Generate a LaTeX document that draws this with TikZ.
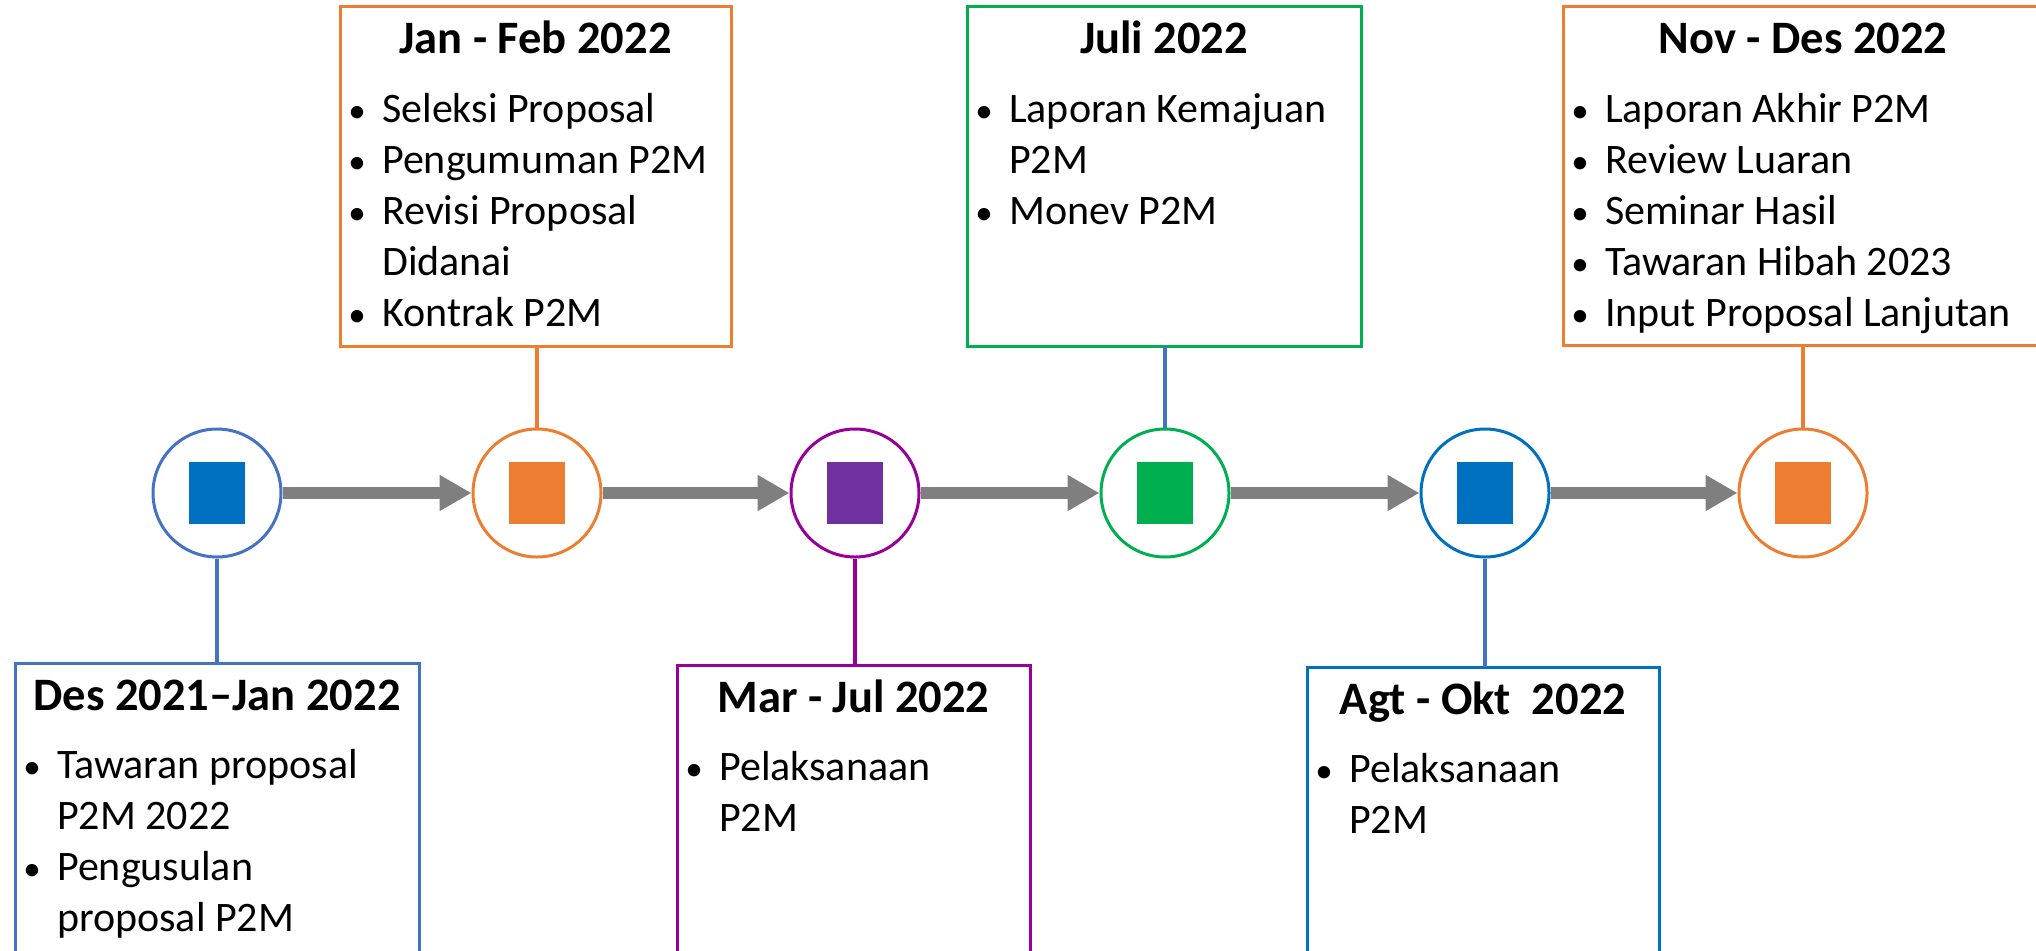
\documentclass[tikz,border=0pt]{standalone}
\usepackage{fontspec}
\setmainfont{Carlito}
\usetikzlibrary{arrows.meta,calc}
\definecolor{cBlueL}{HTML}{4472C4}
\definecolor{cBlue}{HTML}{0070C0}
\definecolor{cOrange}{HTML}{ED7D31}
\definecolor{cPurpleL}{HTML}{990099}
\definecolor{cPurple}{HTML}{7030A0}
\definecolor{cGreen}{HTML}{00B050}
\definecolor{cGray}{HTML}{7F7F7F}
\begin{document}
\begin{tikzpicture}[x=1pt,y=-1pt,
  circ/.style={circle, draw, line width=3pt, minimum size=128pt, inner sep=0pt, fill=white},
  sq/.style={rectangle, minimum width=56pt, minimum height=62pt, inner sep=0pt, draw=none},
  arr/.style={draw=cGray, line width=12pt, -{Triangle[length=32pt,width=34pt]}},
  conn/.style={line width=4pt},
  tbox/.style={rectangle, draw, line width=3pt, inner sep=0pt, outer sep=0pt, anchor=north west, fill=white},
  ttl/.style={anchor=base, inner sep=0pt, font=\bfseries\fontsize{46.5}{56}\selectfont},
  itm/.style={anchor=base west, inner sep=0pt, font=\fontsize{42}{51}\selectfont},
  bul/.style={anchor=base, inner sep=0pt, font=\fontsize{35}{51}\selectfont}
]
\useasboundingbox (0,0) rectangle (2036,950);
\fill[white] (0,0) rectangle (2036,950);

% boxes
\node[tbox, draw=cBlueL, minimum width=404pt, minimum height=310pt] (b1) at (15,663) {};
\node[tbox, draw=cOrange, minimum width=391pt, minimum height=339pt] (b2) at (340,7) {};
\node[tbox, draw=cPurpleL, minimum width=353pt, minimum height=310pt] (b3) at (677,665) {};
\node[tbox, draw=cGreen, minimum width=394pt, minimum height=339pt] (b4) at (967,7) {};
\node[tbox, draw=cBlue, minimum width=352pt, minimum height=310pt] (b5) at (1307,667) {};
\node[tbox, draw=cOrange, minimum width=480pt, minimum height=338pt] (b6) at (1563,7) {};

% circles
\node[circ, draw=cBlueL] (c1) at (217,493) {};
\node[circ, draw=cOrange] (c2) at (537,493) {};
\node[circ, draw=cPurpleL] (c3) at (855,493) {};
\node[circ, draw=cGreen] (c4) at (1165,493) {};
\node[circ, draw=cBlue] (c5) at (1485,493) {};
\node[circ, draw=cOrange] (c6) at (1803,493) {};

\node[sq, fill=cBlue] (s1) at (c1) {};
\node[sq, fill=cOrange] (s2) at (c2) {};
\node[sq, fill=cPurple] (s3) at (c3) {};
\node[sq, fill=cGreen] (s4) at (c4) {};
\node[sq, fill=cBlue] (s5) at (c5) {};
\node[sq, fill=cOrange] (s6) at (c6) {};

% arrows
\draw[arr] (c1) -- (c2);
\draw[arr] (c2) -- (c3);
\draw[arr] (c3) -- (c4);
\draw[arr] (c4) -- (c5);
\draw[arr] (c5) -- (c6);

% connectors
\draw[conn, draw=cBlueL] (c1.south) -- (c1.south |- b1.north);
\draw[conn, draw=cOrange] (c2.north) -- (c2.north |- b2.south);
\draw[conn, draw=cPurpleL] (c3.south) -- (c3.south |- b3.north);
\draw[conn, draw=cBlueL] (c4.north) -- (c4.north |- b4.south);
\draw[conn, draw=cBlueL] (c5.south) -- (c5.south |- b5.north);
\draw[conn, draw=cOrange] (c6.north) -- (c6.north |- b6.south);

% box 1
\node[ttl] (t1) at ($(b1.north)+(0,47)$) {Des 2021–Jan 2022};
\node[bul] (p1a) at ($(b1.north west)+(17,115)$) {•};
\node[itm] (i1a) at ($(b1.north west)+(42,115)$) {Tawaran proposal};
\node[itm] (i1b) at ($(b1.north west)+(42,166)$) {P2M 2022};
\node[bul] (p1c) at ($(b1.north west)+(17,217)$) {•};
\node[itm] (i1c) at ($(b1.north west)+(42,217)$) {Pengusulan};
\node[itm] (i1d) at ($(b1.north west)+(42,268)$) {proposal P2M};

% box 2
\node[ttl] (t2) at ($(b2.north)+(0,47)$) {Jan - Feb 2022};
\node[bul] (p2a) at ($(b2.north west)+(17,115)$) {•};
\node[itm] (i2a) at ($(b2.north west)+(42,115)$) {Seleksi Proposal};
\node[bul] (p2b) at ($(b2.north west)+(17,166)$) {•};
\node[itm] (i2b) at ($(b2.north west)+(42,166)$) {Pengumuman P2M};
\node[bul] (p2c) at ($(b2.north west)+(17,217)$) {•};
\node[itm] (i2c) at ($(b2.north west)+(42,217)$) {Revisi Proposal};
\node[itm] (i2d) at ($(b2.north west)+(42,268)$) {Didanai};
\node[bul] (p2e) at ($(b2.north west)+(17,319)$) {•};
\node[itm] (i2e) at ($(b2.north west)+(42,319)$) {Kontrak P2M};

% box 3
\node[ttl] (t3) at ($(b3.north)+(0,47)$) {Mar - Jul 2022};
\node[bul] (p3a) at ($(b3.north west)+(17,115)$) {•};
\node[itm] (i3a) at ($(b3.north west)+(42,115)$) {Pelaksanaan};
\node[itm] (i3b) at ($(b3.north west)+(42,166)$) {P2M};

% box 4
\node[ttl] (t4) at ($(b4.north)+(0,47)$) {Juli 2022};
\node[bul] (p4a) at ($(b4.north west)+(17,115)$) {•};
\node[itm] (i4a) at ($(b4.north west)+(42,115)$) {Laporan Kemajuan};
\node[itm] (i4b) at ($(b4.north west)+(42,166)$) {P2M};
\node[bul] (p4c) at ($(b4.north west)+(17,217)$) {•};
\node[itm] (i4c) at ($(b4.north west)+(42,217)$) {Monev P2M};

% box 5
\node[ttl] (t5) at ($(b5.north)+(0,47)$) {Agt - Okt\ \ 2022};
\node[bul] (p5a) at ($(b5.north west)+(17,115)$) {•};
\node[itm] (i5a) at ($(b5.north west)+(42,115)$) {Pelaksanaan};
\node[itm] (i5b) at ($(b5.north west)+(42,166)$) {P2M};

% box 6
\node[ttl] (t6) at ($(b6.north)+(0,47)$) {Nov - Des 2022};
\node[bul] (p6a) at ($(b6.north west)+(17,115)$) {•};
\node[itm] (i6a) at ($(b6.north west)+(42,115)$) {Laporan Akhir P2M};
\node[bul] (p6b) at ($(b6.north west)+(17,166)$) {•};
\node[itm] (i6b) at ($(b6.north west)+(42,166)$) {Review Luaran};
\node[bul] (p6c) at ($(b6.north west)+(17,217)$) {•};
\node[itm] (i6c) at ($(b6.north west)+(42,217)$) {Seminar Hasil};
\node[bul] (p6d) at ($(b6.north west)+(17,268)$) {•};
\node[itm] (i6d) at ($(b6.north west)+(42,268)$) {Tawaran Hibah 2023};
\node[bul] (p6e) at ($(b6.north west)+(17,319)$) {•};
\node[itm] (i6e) at ($(b6.north west)+(42,319)$) {Input Proposal Lanjutan};
\end{tikzpicture}
\end{document}
